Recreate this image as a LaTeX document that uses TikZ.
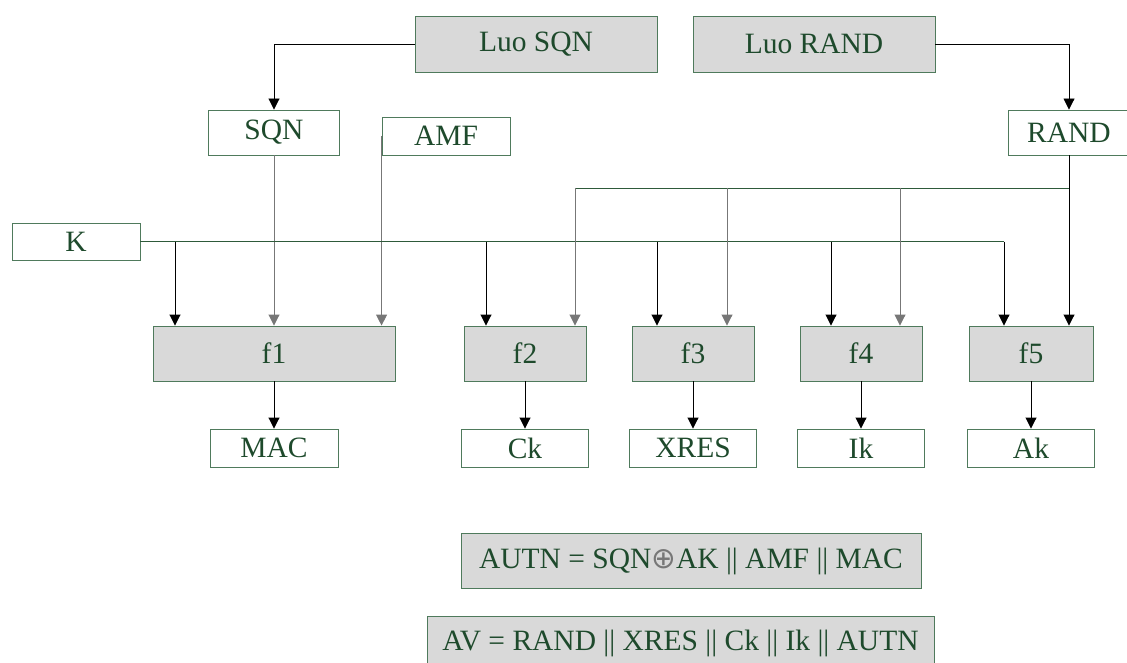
\documentclass[tikz,border=0pt]{standalone}
\usepackage{fontspec}
\setmainfont{Liberation Serif}
\newfontfamily\symbolfont{DejaVu Sans}
\usetikzlibrary{arrows.meta,positioning}
\definecolor{boxline}{HTML}{4F7A5C}
\definecolor{boxtext}{HTML}{1E4A2C}
\definecolor{boxfill}{HTML}{D9D9D9}
\definecolor{wiregreen}{HTML}{2E5A3A}
\definecolor{wiregray}{HTML}{777777}

\begin{document}
\begin{tikzpicture}[
x=1pt, y=-1pt,
every node/.style={font=\fontsize{29.5}{34}\selectfont, text=boxtext, inner sep=0pt},
databox/.style={draw=boxline, line width=0.9pt, fill=white},
funcbox/.style={draw=boxline, line width=0.9pt, fill=boxfill},
link/.style={draw=wiregreen, line width=0.9pt},
arrow/.style={-{Triangle[length=11pt,width=11pt]}, line width=0.9pt, black},
grayarrow/.style={arrow, wiregray}
]
\useasboundingbox (0,0) rectangle (1127,663);

% sources
\node[funcbox, minimum width=242pt, minimum height=56pt] (luosqn) at (536,44) {Luo SQN};
\node[funcbox, minimum width=242pt, minimum height=56pt] (luorand) at (814,44) {Luo RAND};

% inputs
\node[databox, minimum width=131pt, minimum height=45pt] (sqn) at (274,132.5) {SQN};
\node[databox, minimum width=128pt, minimum height=38pt] (amf) at (446,136) {AMF};
\node[databox, minimum width=122pt, minimum height=45pt] (rand) at (1069,132.5) {RAND};
\node[databox, minimum width=128pt, minimum height=37pt] (k) at (76,241.5) {K};

% functions
\node[funcbox, minimum width=242pt, minimum height=55pt] (f1) at (274,353.5) {f1};
\node[funcbox, minimum width=122pt, minimum height=55pt] (f2) at (525,353.5) {f2};
\node[funcbox, minimum width=122pt, minimum height=55pt] (f3) at (693,353.5) {f3};
\node[funcbox, minimum width=122pt, minimum height=55pt] (f4) at (861,353.5) {f4};
\node[funcbox, minimum width=124pt, minimum height=55pt] (f5) at (1031,353.5) {f5};

% outputs
\node[databox, minimum width=128pt, minimum height=38pt] (mac) at (274,448) {MAC};
\node[databox, minimum width=127pt, minimum height=38pt] (ck) at (525,448) {Ck};
\node[databox, minimum width=127pt, minimum height=38pt] (xres) at (693,448) {XRES};
\node[databox, minimum width=127pt, minimum height=38pt] (ik) at (861,448) {Ik};
\node[databox, minimum width=127pt, minimum height=38pt] (ak) at (1031,448) {Ak};

% results
\node[funcbox, minimum width=460pt, minimum height=55pt] (autn) at (691,561)
  {AUTN = SQN{\symbolfont\color{wiregray}⊕}AK || AMF || MAC};
\node[funcbox, minimum width=507pt, minimum height=54pt] (av) at (680.5,643)
  {AV = RAND || XRES || Ck || Ik || AUTN};

% branch points
\coordinate (k1) at (175,241.5);
\coordinate (k2) at (486,241.5);
\coordinate (k3) at (657,241.5);
\coordinate (k4) at (831,241.5);
\coordinate (k5) at (1004,241.5);
\coordinate (rj) at (1069,188);
\coordinate (r2) at (575,188);
\coordinate (r3) at (727,188);
\coordinate (r4) at (900,188);

\draw[arrow] (luosqn.west) -| (sqn.north);
\draw[arrow] (luorand.east) -| (rand.north);

\draw[grayarrow] (sqn.south) -- (sqn.south |- f1.north);
\draw[grayarrow] (amf.west) -- (amf.west |- f1.north);

\draw[link] (k.east) -- (k5);
\foreach \kp/\f in {k1/f1,k2/f2,k3/f3,k4/f4,k5/f5}
  \draw[arrow] (\kp) -- (\kp |- \f.north);

\draw[link] (rj) -- (r2);
\draw[arrow] (rand.south) -- (rand.south |- f5.north);
\foreach \rp/\f in {r2/f2,r3/f3,r4/f4}
  \draw[grayarrow] (\rp) -- (\rp |- \f.north);

\foreach \f/\o in {f1/mac,f2/ck,f3/xres,f4/ik,f5/ak}
  \draw[arrow] (\f.south) -- (\f.south |- \o.north);
\end{tikzpicture}
\end{document}
